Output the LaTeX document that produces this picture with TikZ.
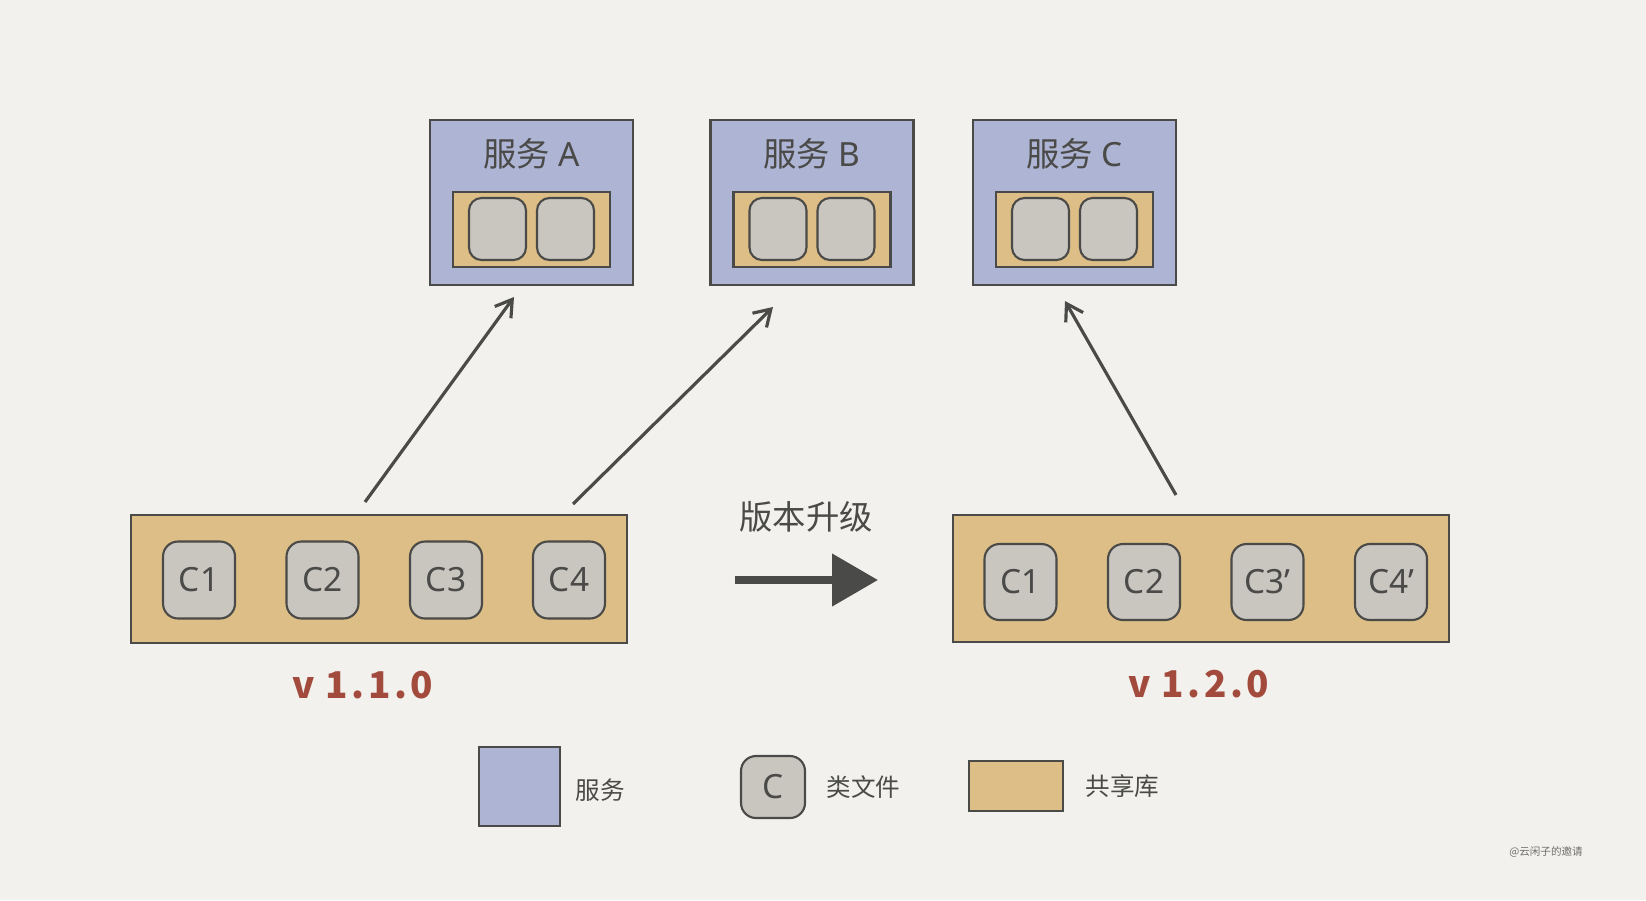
\documentclass[tikz,border=0pt]{standalone}
\usepackage{fontspec}
\setmainfont{Noto Sans}
\newfontfamily\cjk{Noto Sans CJK SC}
\usetikzlibrary{arrows.meta,positioning}

\definecolor{paper}{HTML}{F2F1EE}
\definecolor{svcBlue}{HTML}{AEB4D4}
\definecolor{libSand}{HTML}{DDBE86}
\definecolor{clsGray}{HTML}{C9C5BF}
\definecolor{inkGray}{HTML}{4A4A48}
\definecolor{verRed}{HTML}{A24A3C}

\newcommand{\vertag}[3]{v\kern6pt#1\kern2pt.\kern2pt#2\kern2pt.\kern2pt#3}

\begin{document}
\begin{tikzpicture}[x=0.02cm, y=-0.02cm, >={Straight Barb[length=3.2mm,width=4mm]}]

			% Kiểu dáng cho các khối
			\tikzset{
				svcBox/.style={draw=inkGray, line width=1.6pt, fill=svcBlue, minimum width=4.06cm, minimum height=3.3cm, inner sep=0pt},
				libBox/.style={draw=inkGray, line width=1.6pt, fill=libSand, inner sep=0pt},
				clsBox/.style={draw=inkGray, line width=1.2pt, fill=clsGray, rounded corners=3mm, inner sep=0pt,
					text=inkGray, font=\fontsize{19}{19}\selectfont},
				verTxt/.style={text=verRed, font=\fontsize{21}{21}\selectfont\cjk\bfseries},
				useLine/.style={->, draw=inkGray, line width=1.8pt},
				lbl/.style={text=inkGray, inner sep=0pt}
			}

			% Nền giấy và khung ảnh
			\fill[paper] (0,0) rectangle (1646,900);
			\useasboundingbox (0,0) rectangle (1646,900);

			% ----- CÁC DỊCH VỤ (hàng trên) -----
			\foreach \name/\cx/\tag in {svcA/531.5/A, svcB/812/B, svcC/1074.5/C} {
				\node[svcBox] (\name) at (\cx, 202.5) {};
				\node[lbl, font=\fontsize{19}{19}\selectfont] (\name-title) at (\cx, 154) {{\cjk 服务}\ \tag};
				% thư viện dùng chung bên trong dịch vụ
				\node[libBox, minimum width=3.14cm, minimum height=1.5cm] (\name-lib) at (\cx, 229.5) {};
				\node[clsBox, minimum width=1.14cm, minimum height=1.24cm, rounded corners=2.5mm] (\name-c1) at (\cx-34, 229) {};
				\node[clsBox, minimum width=1.14cm, minimum height=1.24cm, rounded corners=2.5mm] (\name-c2) at (\cx+34, 229) {};
			}

			% ----- THƯ VIỆN v1.1.0 -----
			\node[libBox, minimum width=9.92cm, minimum height=2.56cm] (libOld) at (379, 579) {};
			\foreach \i/\cx in {1/199, 2/322.5, 3/446, 4/569} {
				\node[clsBox, minimum width=1.44cm, minimum height=1.54cm] (old\i) at (\cx, 580) {C\i};
			}
			\node[verTxt] (verOld) at (363, 685) {\vertag{1}{1}{0}};

			% ----- THƯ VIỆN v1.2.0 -----
			\node[libBox, minimum width=9.92cm, minimum height=2.54cm] (libNew) at (1201, 578.5) {};
			\foreach \i/\cx/\txt in {1/1020.5/C1, 2/1144/C2, 3/1267.5/C3’, 4/1391/C4’} {
				\node[clsBox, minimum width=1.44cm, minimum height=1.52cm] (new\i) at (\cx, 582) {\txt};
			}
			\node[verTxt] (verNew) at (1199, 684) {\vertag{1}{2}{0}};

			% ----- MŨI TÊN PHỤ THUỘC -----
			\coordinate (aFrom) at (365, 502);
			\coordinate (aTo) at (514, 297);
			\coordinate (bFrom) at (573, 504);
			\coordinate (bTo) at (773, 307);
			\coordinate (cFrom) at (1176, 495);
			\coordinate (cTo) at (1065, 301);
			\draw[useLine] (aFrom) -- (aTo);
			\draw[useLine] (bFrom) -- (bTo);
			\draw[useLine] (cFrom) -- (cTo);

			% Mũi tên nâng cấp phiên bản
			\node[lbl, font=\fontsize{19}{19}\selectfont\cjk] (upText) at (806, 517) {版本升级};
			\coordinate (upFrom) at (735, 580);
			\coordinate (upTo) at (878, 580);
			\draw[draw=inkGray, line width=4.5pt, -{Triangle[length=9.2mm,width=10.2mm]}] (upFrom) -- (upTo);

			% ----- CHÚ THÍCH -----
			\node[svcBox, minimum width=1.62cm, minimum height=1.58cm] (keySvc) at (519.5, 786.5) {};
			\node[lbl, font=\fontsize{14}{14}\selectfont\cjk, right=0.28cm of keySvc.east, yshift=-0.08cm] (keySvcTxt) {服务};
			\node[clsBox, minimum width=1.28cm, minimum height=1.24cm] (keyCls) at (773, 787) {C};
			\node[lbl, font=\fontsize{14}{14}\selectfont\cjk, right=0.4cm of keyCls] (keyClsTxt) {类文件};
			\node[libBox, minimum width=1.88cm, minimum height=1.0cm] (keyLib) at (1016, 786) {};
			\node[lbl, font=\fontsize{14}{14}\selectfont\cjk, right=0.42cm of keyLib] (keyLibTxt) {共享库};

			% Ký tên góc phải
			\node[text=inkGray!80, font=\fontsize{6}{6}\selectfont\cjk] (sign) at (1546, 852) {@云闲子的邀请};

\end{tikzpicture}
\end{document}
